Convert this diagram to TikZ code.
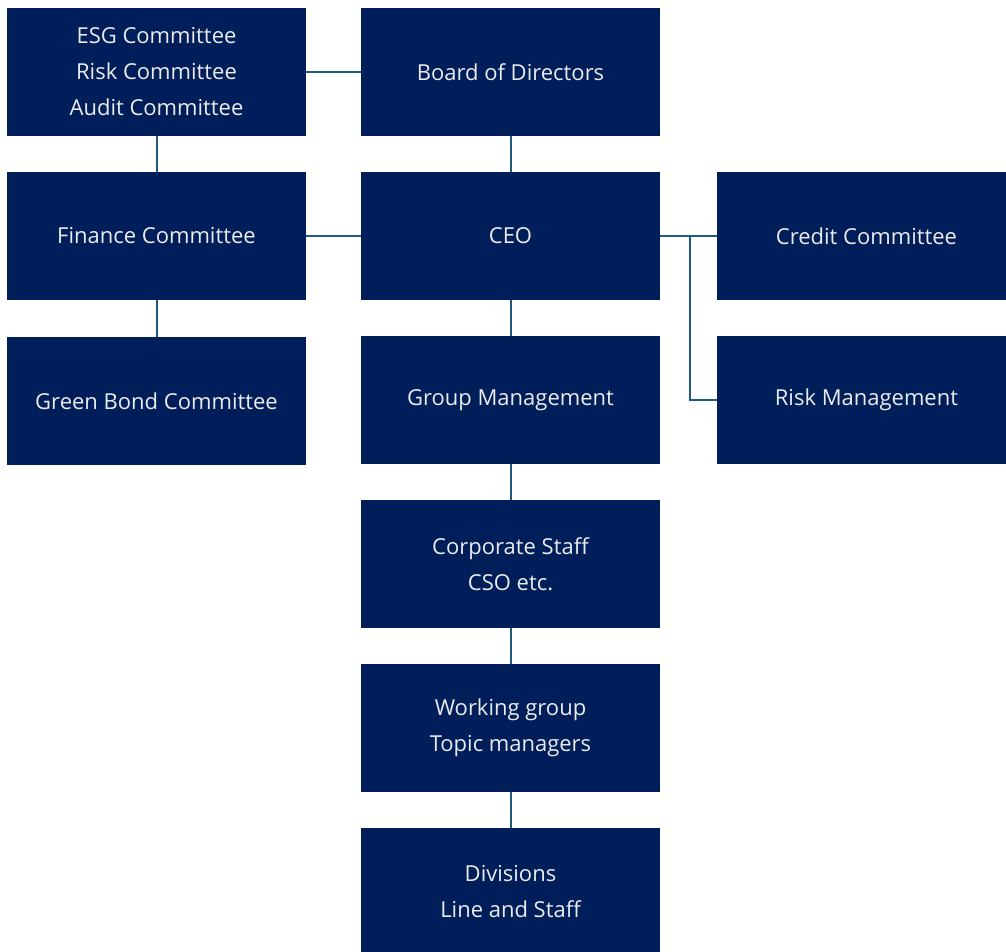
\documentclass[tikz,border=0pt]{standalone}
\usepackage{fontspec}
\setmainfont{Open Sans}
\definecolor{navy}{RGB}{0,30,90}
\definecolor{linkblue}{RGB}{30,90,125}
\begin{document}
\begin{tikzpicture}[x=1pt, y=-1pt, font=\fontsize{22}{36}\selectfont]
    \tikzstyle{box_style} = [fill=navy, text=white!92!black, minimum width=299pt, minimum height=128pt, align=center, inner sep=0pt]
    \tikzstyle{link_style} = [linkblue, line width=2pt]

    \useasboundingbox (0,0) rectangle (1006,952);

    \node[box_style] (esg) at (156.5,72) {ESG Committee\\Risk Committee\\Audit Committee};
    \node[box_style] (board) at (510.5,72) {Board of Directors};
    \node[box_style] (finance) at (156.5,236) {Finance Committee};
    \node[box_style] (ceo) at (510.5,236) {CEO};
    \node[box_style] (credit) at (866.5,236) {Credit Committee};
    \node[box_style] (green) at (156.5,401) {Green Bond Committee};
    \node[box_style] (group) at (510.5,400) {Group Management};
    \node[box_style] (risk) at (866.5,400) {Risk Management};
    \node[box_style] (corp) at (510.5,564) {Corporate Staff\\CSO etc.};
    \node[box_style] (work) at (510.5,728) {Working group\\Topic managers};
    \node[box_style] (div) at (510.5,892) {Divisions\\Line and Staff};

    \coordinate (branch) at (690,236);

    \draw[link_style] (esg) -- (board);
    \draw[link_style] (esg) -- (finance);
    \draw[link_style] (finance) -- (ceo);
    \draw[link_style] (finance) -- (green);
    \draw[link_style] (board) -- (ceo);
    \draw[link_style] (ceo) -- (credit);
    \draw[link_style] (branch) |- (risk);
    \draw[link_style] (ceo) -- (group);
    \draw[link_style] (group) -- (corp);
    \draw[link_style] (corp) -- (work);
    \draw[link_style] (work) -- (div);
\end{tikzpicture}
\end{document}
